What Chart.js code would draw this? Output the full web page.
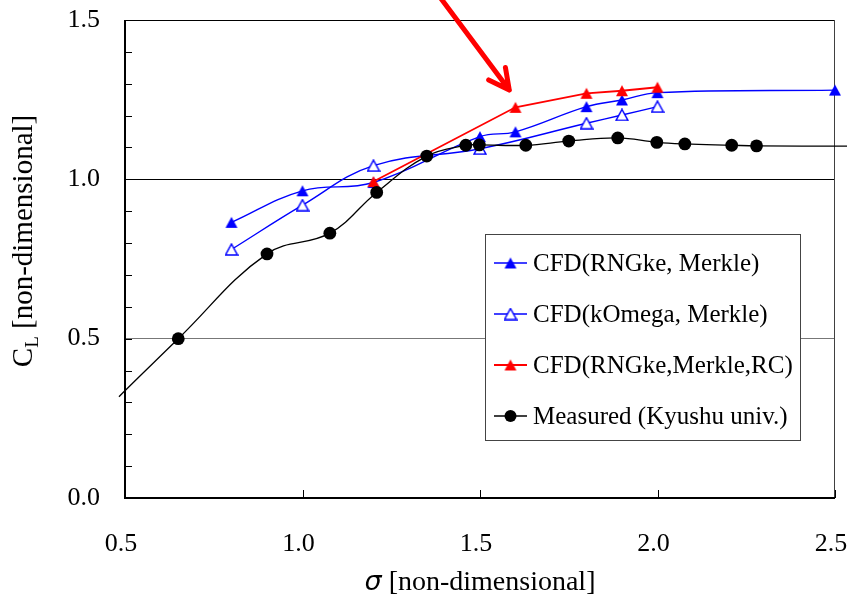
<!DOCTYPE html>
<html><head><meta charset="utf-8">
<script src="https://cdn.jsdelivr.net/npm/chart.js@4/dist/chart.umd.min.js"></script>
<style>html,body{margin:0;padding:0;background:#fff}#wrap{width:847px;height:600px}</style>
</head><body><div id="wrap"><canvas id="c" width="847" height="600"></canvas></div>
<script>
// ---- data ----
const seriesLabels = ['CFD(RNGke, Merkle)', 'CFD(kOmega, Merkle)', 'CFD(RNGke,Merkle,RC)', 'Measured (Kyushu univ.)'];

const sigmaRNG = [0.8, 1.0, 1.2, 1.5, 1.6, 1.8, 1.9, 2.0, 2.5];
const clRNG    = [0.865, 0.964, 0.99, 1.134, 1.149, 1.228, 1.249, 1.272, 1.28];

const sigmaKO  = [0.8, 1.0, 1.2, 1.5, 1.8, 1.9, 2.0];
const clKO     = [0.78, 0.919, 1.043, 1.096, 1.176, 1.202, 1.228];

const sigmaRC  = [1.2, 1.6, 1.8, 1.9, 2.0];
const clRC     = [0.993, 1.226, 1.27, 1.278, 1.289];

const sigmaMeas = [0.65, 0.9, 1.077, 1.209, 1.35, 1.46, 1.498, 1.629, 1.75, 1.888, 1.998, 2.077, 2.209, 2.279];
const clMeas    = [0.5, 0.766, 0.831, 0.959, 1.073, 1.107, 1.108, 1.107, 1.12, 1.13, 1.116, 1.111, 1.107, 1.105];
// trend line of the measured data extends beyond the markers
const sigmaMeasTrendStart = 0.483, clMeasTrendStart = 0.318;
const sigmaMeasTrendEnd = 2.535,  clMeasTrendEnd = 1.104;

const xTickValues = [0.5, 1.0, 1.5, 2.0, 2.5];
const yTickValues = [0.0, 0.5, 1.0, 1.5];
const xTitleSymbol = 'σ', xTitleText = ' [non-dimensional]';
const yTitleMain = 'C', yTitleSub = 'L', yTitleText = ' [non-dimensional]';
// annotation arrow (data coordinates)
const arrowFrom = [1.383, 1.578];
const arrowTo   = [1.5825, 1.28];

// ---- markers ----
function triMarker(fill, stroke) {
  const c = document.createElement('canvas');
  c.width = 14; c.height = 13;
  const g = c.getContext('2d');
  g.beginPath();
  g.moveTo(7, 1); g.lineTo(13, 12); g.lineTo(1, 12); g.closePath();
  g.fillStyle = fill; g.fill();
  if (stroke) { g.lineWidth = 1.5; g.strokeStyle = stroke; g.lineJoin = 'miter'; g.stroke(); }
  return c;
}
const mBlue = triMarker('#0000ff');
const mOpen = triMarker('#ffffff', '#0000ff');
const mRed  = triMarker('#ff0000');

const pts = (xs, ys) => xs.map((x, i) => ({x: x, y: ys[i]}));
const measData = [{x: sigmaMeasTrendStart, y: clMeasTrendStart}]
  .concat(pts(sigmaMeas, clMeas))
  .concat([{x: sigmaMeasTrendEnd, y: clMeasTrendEnd}]);
const measRadius = measData.map((p, i) => (i === 0 || i === measData.length - 1) ? 0 : 6.4);

const SERIF = '"Liberation Serif", "Times New Roman", serif';

const datasets = [
  {label: seriesLabels[0], data: pts(sigmaRNG, clRNG), borderColor: '#0000ff', borderWidth: 1.4,
   pointStyle: mBlue, tension: 0.4, order: 3, marker: mBlue, clip: 8},
  {label: seriesLabels[1], data: pts(sigmaKO, clKO), borderColor: '#0000ff', borderWidth: 1.4,
   pointStyle: mOpen, tension: 0.4, order: 2, marker: mOpen},
  {label: seriesLabels[2], data: pts(sigmaRC, clRC), borderColor: '#ff0000', borderWidth: 1.8,
   pointStyle: mRed, tension: 0, order: 1, marker: mRed},
  {label: seriesLabels[3], data: measData, borderColor: '#000000', borderWidth: 1.3,
   pointStyle: 'circle', pointRadius: measRadius, pointBackgroundColor: '#000', pointBorderWidth: 0,
   tension: 0.4, order: 0, clip: false, marker: 'circle'}
];
datasets.forEach(d => { d.fill = false; d.showLine = true; d.pointHoverRadius = d.pointRadius; });

const decor = {
  id: 'decor',
  beforeDatasetsDraw(chart) {
    const {ctx, chartArea: a, scales: {x, y}} = chart;
    ctx.save();
    ctx.strokeStyle = '#000';
    ctx.lineWidth = 1;
    ctx.beginPath();
    for (let k = 1; k < 15; k++) {
      const py = Math.round(y.getPixelForValue(k / 10)) + 0.5;
      ctx.moveTo(a.left, py); ctx.lineTo(a.left + 7, py);
    }
    xTickValues.forEach(v => {
      const px = Math.round(x.getPixelForValue(v)) + 0.5;
      ctx.moveTo(px, a.bottom); ctx.lineTo(px, a.bottom - 8);
    });
    ctx.stroke();
    ctx.lineWidth = 1;
    ctx.strokeStyle = '#000';
    ctx.beginPath();
    ctx.moveTo(a.left + 0.5, a.top + 0.5); ctx.lineTo(a.right - 0.5, a.top + 0.5);
    ctx.stroke();
    ctx.strokeStyle = '#404040';
    ctx.beginPath();
    ctx.moveTo(a.right - 0.5, a.top); ctx.lineTo(a.right - 0.5, a.bottom);
    ctx.stroke();
    ctx.lineWidth = 2;
    ctx.strokeStyle = '#000';
    ctx.beginPath();
    ctx.moveTo(a.left, a.top); ctx.lineTo(a.left, a.bottom); ctx.lineTo(a.right, a.bottom);
    ctx.stroke();
    ctx.restore();
  },
  afterDraw(chart) {
    const {ctx, chartArea: a, scales: {x, y}} = chart;
    ctx.save();
    // ---- legend ----
    const lx = 485, ly = 234, lw = 315, lh = 206;
    ctx.fillStyle = '#fff';
    ctx.fillRect(lx, ly, lw, lh);
    ctx.strokeStyle = '#444';
    ctx.lineWidth = 1;
    ctx.strokeRect(lx + 0.5, ly + 0.5, lw, lh);
    const rows = [263, 314, 365, 416];
    chart.data.datasets.forEach((d, i) => {
      const ry = rows[i];
      ctx.strokeStyle = d.borderColor;
      ctx.lineWidth = d.borderWidth;
      ctx.beginPath(); ctx.moveTo(494, ry); ctx.lineTo(527, ry); ctx.stroke();
      if (d.marker === 'circle') {
        ctx.fillStyle = '#000';
        ctx.beginPath(); ctx.arc(510.5, ry, 6, 0, Math.PI * 2); ctx.fill();
      } else {
        ctx.drawImage(d.marker, 510.5 - d.marker.width / 2, ry - d.marker.height / 2);
      }
      ctx.fillStyle = '#000';
      ctx.font = '25px ' + SERIF;
      ctx.textBaseline = 'middle';
      ctx.textAlign = 'left';
      ctx.fillText(d.label, 533, ry + 1);
    });
    // ---- arrow ----
    const x0 = x.getPixelForValue(arrowFrom[0]), y0 = y.getPixelForValue(arrowFrom[1]);
    const x1 = x.getPixelForValue(arrowTo[0]),   y1 = y.getPixelForValue(arrowTo[1]);
    const ang = Math.atan2(y0 - y1, x0 - x1);
    const wing = 23, spread = 27 * Math.PI / 180;
    ctx.strokeStyle = '#ff0000';
    ctx.lineWidth = 5;
    ctx.lineCap = 'round'; ctx.lineJoin = 'round';
    ctx.beginPath();
    ctx.moveTo(x0, y0); ctx.lineTo(x1, y1);
    ctx.moveTo(x1 + wing * Math.cos(ang + spread), y1 + wing * Math.sin(ang + spread));
    ctx.lineTo(x1, y1);
    ctx.lineTo(x1 + wing * Math.cos(ang - spread), y1 + wing * Math.sin(ang - spread));
    ctx.stroke();
    // ---- x title ----
    ctx.fillStyle = '#000';
    ctx.textBaseline = 'alphabetic';
    ctx.textAlign = 'left';
    const symFont = 'italic 27px "DejaVu Sans", sans-serif';
    const txtFont = '28px ' + SERIF;
    ctx.font = symFont; const ws = ctx.measureText(xTitleSymbol).width;
    ctx.font = txtFont; const wt = ctx.measureText(xTitleText).width;
    let sx = (a.left + a.right) / 2 - (ws + wt) / 2;
    ctx.font = symFont; ctx.fillText(xTitleSymbol, sx, 590);
    ctx.font = txtFont; ctx.fillText(xTitleText, sx + ws, 590);
    // ---- y title ----
    ctx.translate(32, 241);
    ctx.rotate(-Math.PI / 2);
    ctx.font = '29px ' + SERIF;
    const wc = ctx.measureText(yTitleMain).width;
    const wr = ctx.measureText(yTitleText).width;
    ctx.font = '19px ' + SERIF;
    const wl = ctx.measureText(yTitleSub).width;
    let tx = -(wc + wl + wr) / 2;
    ctx.font = '29px ' + SERIF; ctx.fillText(yTitleMain, tx, 0);
    ctx.font = '19px ' + SERIF; ctx.fillText(yTitleSub, tx + wc, 6);
    ctx.font = '29px ' + SERIF; ctx.fillText(yTitleText, tx + wc + wl, 0);
    ctx.restore();
  }
};

new Chart(document.getElementById('c'), {
  type: 'line',
  data: {datasets: datasets},
  options: {
    responsive: false, animation: false, devicePixelRatio: 1,
    layout: {padding: {top: 20, right: 12, left: 0, bottom: 0}},
    plugins: {legend: {display: false}, tooltip: {enabled: false}},
    scales: {
      x: {
        type: 'linear', min: 0.5, max: 2.5,
        afterBuildTicks: s => { s.ticks = xTickValues.map(v => ({value: v})); },
        afterFit: s => { s.height = 102; s.paddingLeft = 0; s.paddingRight = 0; },
        ticks: {callback: v => Number(v).toFixed(1), font: {family: SERIF, size: 26}, color: '#000',
                padding: 31, maxRotation: 0, autoSkip: false, labelOffset: -4},
        grid: {display: false, drawTicks: false}, border: {display: false}
      },
      y: {
        type: 'linear', min: 0, max: 1.5,
        afterBuildTicks: s => { s.ticks = yTickValues.map(v => ({value: v})); },
        afterFit: s => { s.width = 125; s.paddingTop = 0; s.paddingBottom = 0; },
        ticks: {callback: v => Number(v).toFixed(1), font: {family: SERIF, size: 26}, color: '#000',
                padding: 25, autoSkip: false},
        grid: {drawTicks: false, lineWidth: 1,
               color: c => {
                 const v = c.tick ? c.tick.value : -1;
                 if (Math.abs(v - 1.0) < 1e-6) return '#000';
                 if (Math.abs(v - 0.5) < 1e-6) return '#777';
                 return 'rgba(0,0,0,0)';
               }},
        border: {display: false}
      }
    }
  },
  plugins: [decor]
});
</script></body></html>
